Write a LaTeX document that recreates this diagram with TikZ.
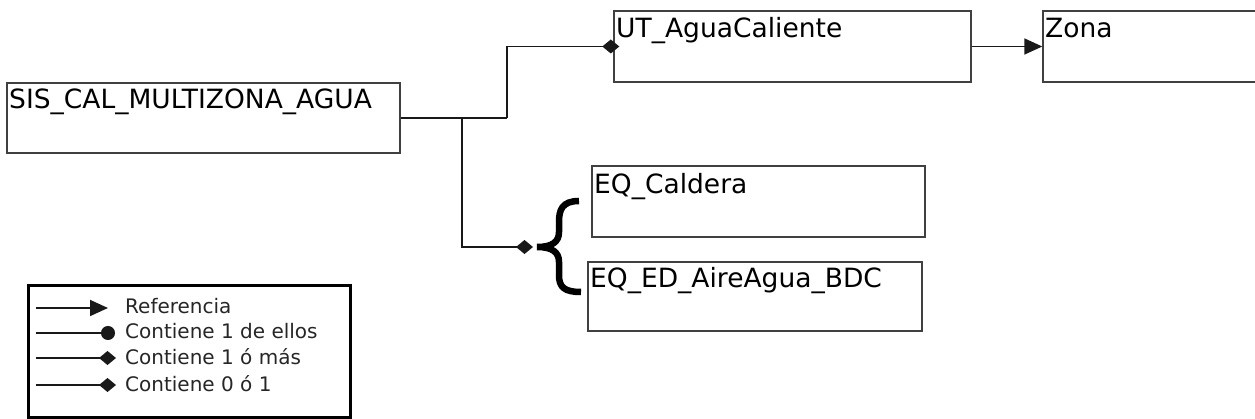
\documentclass[tikz,border=0pt]{standalone}
\usepackage{fontspec}
\setmainfont{DejaVu Sans}
\usetikzlibrary{arrows.meta}
\tikzset{
  box/.style={draw=black!75, line width=1.4pt, rectangle, inner sep=0pt, fill=white},
  boxtxt/.style={anchor=base west, inner sep=0pt, font=\fontsize{26.5}{29}\selectfont},
  conn/.style={draw=black!90, line width=1.7pt},
  dia/.style={-{Diamond[length=17pt,width=14pt]}},
  tri/.style={-{Triangle[length=18pt,width=16pt]}},
  dot/.style={-{Circle[length=14pt]}},
  legtxt/.style={anchor=base west, inner sep=0pt, text=black!85, font=\fontsize{20}{22}\selectfont},
}
\begin{document}
\begin{tikzpicture}[x=1pt,y=-1pt]
\useasboundingbox (0,0) rectangle (1255,419);
% boxes
\node[box, minimum width=393pt, minimum height=70pt] (sis) at (203.5,118) {};
\node[box, minimum width=357pt, minimum height=71pt] (ut) at (792.5,46.5) {};
\node[box, minimum width=219pt, minimum height=71pt] (zona) at (1152.5,46.5) {};
\node[box, minimum width=333pt, minimum height=71pt] (cal) at (758.5,201.5) {};
\node[box, minimum width=334pt, minimum height=69pt] (ed) at (755,296.5) {};
% labels
\node[boxtxt] (tsis) at (9,109) {SIS\_CAL\_MULTIZONA\_AGUA};
\node[boxtxt] (tut) at (616,38) {UT\_AguaCaliente};
\node[boxtxt] (tzona) at (1045,38) {Zona};
\node[boxtxt] (tcal) at (594,194) {EQ\_Caldera};
\node[boxtxt] (ted) at (590,288) {EQ\_ED\_AireAgua\_BDC};
% connectors
\coordinate (j1) at (507,118);
\coordinate (j2) at (462,118);
\coordinate (d) at (533,247);
\draw[conn] (sis.east) -- (j1);
\draw[conn, dia, shorten >=-6pt] (j1) |- (ut.west);
\draw[conn, dia] (j2) |- (d);
\draw[conn, tri] (ut.east) -- (zona.west);
% brace
\draw[line width=6.5pt, line cap=butt] (579,201) .. controls (562,201) and (559,210) .. (559,222)
  -- (559,232) .. controls (559,242) and (552,247) .. (537,247)
  .. controls (552,247) and (559,252) .. (559,262)
  -- (559,275) .. controls (559,287) and (564,292) .. (581,292);
% legend
\node[draw=black, line width=3pt, minimum width=322pt, minimum height=131pt, inner sep=0pt] (leg) at (189,351.5) {};
\coordinate (la) at (36,308); \coordinate (lb) at (108,308);
\coordinate (ma) at (36,333); \coordinate (mb) at (115,333);
\coordinate (na) at (36,358); \coordinate (nb) at (116,358);
\coordinate (oa) at (36,385); \coordinate (ob) at (116,385);
\draw[conn, tri] (la) -- (lb);
\draw[conn, dot] (ma) -- (mb);
\draw[conn, dia] (na) -- (nb);
\draw[conn, dia] (oa) -- (ob);
\node[legtxt] (l1) at (125,314) {Referencia};
\node[legtxt] (l2) at (125,339) {Contiene 1 de ellos};
\node[legtxt] (l3) at (125,364) {Contiene 1 ó más};
\node[legtxt] (l4) at (125,391) {Contiene 0 ó 1};
\end{tikzpicture}
\end{document}
